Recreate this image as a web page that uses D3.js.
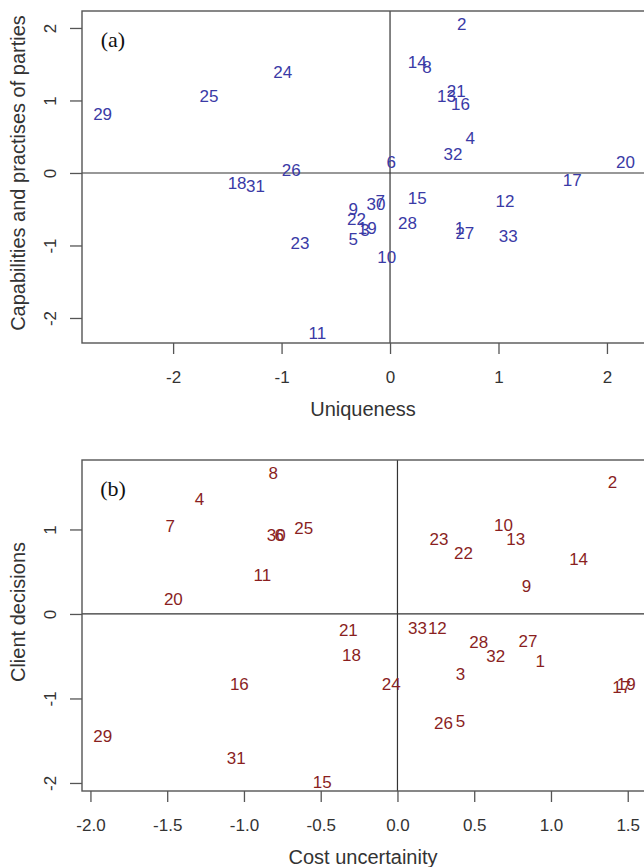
<!DOCTYPE html>
<html>
<head>
<meta charset="utf-8">
<style>
  body { margin: 0; background: #fff; }
  svg { display: block; font-family: 'Liberation Sans', Arial, sans-serif; }
  .tick text { font-size: 17px; fill: #333; }
  .tick line { stroke: #555; stroke-width: 1.3px; }
  .domain { display: none; }
  .frame { fill: none; stroke: #555; stroke-width: 1.4px; }
  .zero { stroke: #333; stroke-width: 1.2px; }
  .title { font-size: 20px; fill: #333; }
  .tag { font-family: 'Liberation Serif', 'Times New Roman', serif; font-size: 22px; fill: #111; }
  .pt { font-size: 17px; }
</style>
</head>
<body>
<svg width="644" height="867"></svg>
<script src="https://d3js.org/d3.v7.min.js"></script>
<script>
// case numbers 1..33, same order in both panels
const ids = d3.range(1, 34);

// panel (a): Uniqueness vs Capabilities and practises of parties
const uniq = [0.64, 0.66, -0.23, 0.74, -0.34, 0.01, -0.09, 0.34, -0.34, -0.03,
  -0.67, 1.06, 0.52, 0.25, 0.25, 0.65, 1.68, -1.41, -0.21, 2.17,
  0.61, -0.31, -0.83, -0.99, -1.67, -0.91, 0.69, 0.16, -2.65, -0.13,
  -1.24, 0.58, 1.09];
const capab = [-0.77, 2.05, -0.80, 0.48, -0.92, 0.14, -0.40, 1.46, -0.51, -1.17,
  -2.22, -0.40, 1.05, 1.52, -0.35, 0.94, -0.10, -0.15, -0.76, 0.14,
  1.13, -0.64, -0.97, 1.38, 1.05, 0.03, -0.83, -0.69, 0.80, -0.43,
  -0.19, 0.25, -0.88];

// panel (b): Cost uncertainity vs Client decisions
const cost = [0.93, 1.40, 0.41, -1.29, 0.41, -0.77, -1.48, -0.81, 0.84, 0.69,
  -0.88, 0.26, 0.77, 1.18, -0.49, -1.03, 1.46, -0.30, 1.49, -1.46,
  -0.32, 0.43, 0.27, -0.04, -0.61, 0.30, 0.85, 0.53, -1.92, -0.79,
  -1.05, 0.64, 0.13];
const client = [-0.56, 1.55, -0.72, 1.35, -1.27, 0.93, 1.04, 1.66, 0.33, 1.05,
  0.46, -0.17, 0.88, 0.65, -1.99, -0.83, -0.87, -0.49, -0.83, 0.17,
  -0.20, 0.71, 0.88, -0.83, 1.01, -1.30, -0.32, -0.34, -1.45, 0.93,
  -1.71, -0.50, -0.17];

const xTicksA = [-2, -1, 0, 1, 2];
const yTicksA = [-2, -1, 0, 1, 2];
const xTicksB = [-2.0, -1.5, -1.0, -0.5, 0.0, 0.5, 1.0, 1.5];
const yTicksB = [-2, -1, 0, 1];

const svg = d3.select("svg");

// R style labels: plain hyphen for minus
const intFmt = d => String(d);
const oneDec = d => d.toFixed(1);

function panel(cfg) {
  const x = d3.scaleLinear().domain(cfg.xlim).range([cfg.left, cfg.right]);
  const y = d3.scaleLinear().domain(cfg.ylim).range([cfg.bottom, cfg.top]);
  const g = svg.append("g");

  // reference lines through the origin
  g.append("line").attr("class", "zero")
    .attr("x1", x(0)).attr("x2", x(0)).attr("y1", cfg.top).attr("y2", cfg.bottom);
  g.append("line").attr("class", "zero")
    .attr("x1", cfg.left).attr("x2", cfg.right).attr("y1", y(0)).attr("y2", y(0));

  g.append("rect").attr("class", "frame")
    .attr("x", cfg.left).attr("y", cfg.top)
    .attr("width", cfg.right - cfg.left).attr("height", cfg.bottom - cfg.top);

  g.append("g").attr("class", "x axis")
    .attr("transform", `translate(0,${cfg.bottom})`)
    .call(d3.axisBottom(x).tickValues(cfg.xticks).tickSize(11).tickFormat(cfg.xfmt))
    .selectAll(".tick text")
    .attr("y", 34).attr("dy", null)
    .attr("dominant-baseline", "central");

  const ya = g.append("g").attr("class", "y axis")
    .attr("transform", `translate(${cfg.left},0)`)
    .call(d3.axisLeft(y).tickValues(cfg.yticks).tickSize(12).tickFormat(intFmt));
  ya.selectAll(".tick text")
    .attr("x", null).attr("dy", null)
    .attr("text-anchor", "middle")
    .attr("dominant-baseline", "central")
    .attr("transform", `translate(${50 - cfg.left},0) rotate(-90)`);

  g.append("text").attr("class", "title")
    .attr("x", (cfg.left + 644) / 2).attr("y", cfg.bottom + 66)
    .attr("text-anchor", "middle").attr("dominant-baseline", "central")
    .text(cfg.xlab);
  g.append("text").attr("class", "title")
    .attr("transform", `translate(18,${cfg.ylabY}) rotate(-90)`)
    .attr("text-anchor", "middle").attr("dominant-baseline", "central")
    .text(cfg.ylab);

  g.append("text").attr("class", "tag")
    .attr("x", cfg.left + 31).attr("y", cfg.top + 28)
    .attr("text-anchor", "middle").attr("dominant-baseline", "central")
    .text(cfg.tag);

  g.append("g").selectAll("text")
    .data(ids)
    .join("text")
    .attr("class", "pt")
    .attr("x", (d, i) => x(cfg.xs[i]))
    .attr("y", (d, i) => y(cfg.ys[i]))
    .attr("text-anchor", "middle")
    .attr("dominant-baseline", "central")
    .style("fill", cfg.color)
    .text(d => d);
}

panel({
  left: 82, right: 646, top: 11, bottom: 343,
  xlim: [-2.84, 2.36], ylim: [-2.345, 2.234],
  xticks: xTicksA, yticks: yTicksA, xfmt: intFmt,
  xs: uniq, ys: capab, color: "#3a3aa6",
  xlab: "Uniqueness", ylab: "Capabilities and practises of parties", ylabY: 173,
  tag: "(a)"
});

panel({
  left: 82, right: 646, top: 460, bottom: 791,
  xlim: [-2.055, 1.619], ylim: [-2.095, 1.822],
  xticks: xTicksB, yticks: yTicksB, xfmt: oneDec,
  xs: cost, ys: client, color: "#8a1f1f",
  xlab: "Cost uncertainity", ylab: "Client decisions", ylabY: 612,
  tag: "(b)"
});
</script>
</body>
</html>
